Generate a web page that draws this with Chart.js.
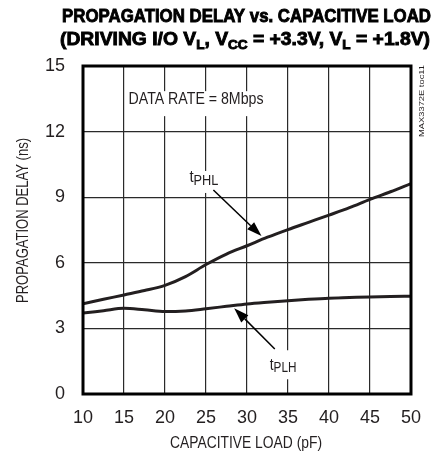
<!DOCTYPE html>
<html><head><meta charset="utf-8">
<script src="https://cdn.jsdelivr.net/npm/chart.js@4/dist/chart.umd.min.js"></script>
<style>html,body{margin:0;padding:0;background:#fff;}#wrap{width:434px;height:457px;}</style>
</head><body><div id="wrap"><canvas id="c" width="434" height="457"></canvas></div>
<script>
// ---- data ----
const capLoad = [10, 12.5, 15, 17.5, 20, 22.5, 25, 27.5, 30, 32.5, 35, 37.5, 40, 42.5, 45, 47.5, 50];
const tPHL = [4.13, 4.33, 4.53, 4.73, 4.97, 5.37, 5.92, 6.40, 6.78, 7.17, 7.52, 7.85, 8.18, 8.52, 8.90, 9.25, 9.62];
const tPLH = [3.70, 3.81, 3.92, 3.85, 3.77, 3.80, 3.90, 4.01, 4.12, 4.20, 4.27, 4.33, 4.38, 4.41, 4.44, 4.46, 4.47];
const xTicks = [10, 15, 20, 25, 30, 35, 40, 45, 50];
const yTicks = [0, 3, 6, 9, 12, 15];

const FONT = '"Liberation Sans Narrow", "Liberation Sans", Arial, sans-serif';
const INK = '#231f20';

function fitText(ctx, text, x, y, width, align, stroke) {
  const w = ctx.measureText(text).width;
  const s = width / w;
  ctx.save();
  ctx.translate(x, y);
  ctx.scale(s, 1);
  ctx.textAlign = align || 'left';
  ctx.fillText(text, 0, 0);
  if (stroke) { ctx.lineWidth = stroke; ctx.strokeStyle = ctx.fillStyle; ctx.strokeText(text, 0, 0); }
  ctx.restore();
}
// pieces: [text, size, dy]
function drawPieces(ctx, pieces, left, baseline, width, bold, stroke) {
  let total = 0;
  pieces.forEach(p => { ctx.font = (bold ? 'bold ' : '') + p[1] + 'px ' + FONT; p.w = ctx.measureText(p[0]).width; total += p.w; });
  const s = width ? width / total : 1;
  ctx.save();
  ctx.translate(left, baseline);
  ctx.scale(s, 1);
  ctx.textAlign = 'left';
  ctx.textBaseline = 'alphabetic';
  let x = 0;
  pieces.forEach(p => {
    ctx.font = (bold ? 'bold ' : '') + p[1] + 'px ' + FONT;
    ctx.fillText(p[0], x, p[2]);
    if (stroke) { ctx.lineWidth = stroke; ctx.strokeStyle = ctx.fillStyle; ctx.strokeText(p[0], x, p[2]); }
    x += p.w;
  });
  ctx.restore();
}
function arrow(ctx, x1, y1, x2, y2) {
  const ang = Math.atan2(y2 - y1, x2 - x1);
  const L = 15, W = 5;
  const bx = x2 - L * Math.cos(ang), by = y2 - L * Math.sin(ang);
  ctx.save();
  ctx.strokeStyle = '#000'; ctx.fillStyle = '#000'; ctx.lineWidth = 1.5;
  ctx.beginPath(); ctx.moveTo(x1, y1); ctx.lineTo(bx, by); ctx.stroke();
  ctx.beginPath();
  ctx.moveTo(x2, y2);
  ctx.lineTo(bx + W * Math.sin(ang), by - W * Math.cos(ang));
  ctx.lineTo(bx - W * Math.sin(ang), by + W * Math.cos(ang));
  ctx.closePath(); ctx.fill();
  ctx.restore();
}

const annot = {
  id: 'annot',
  beforeDatasetsDraw(chart) {
    const ctx = chart.ctx, xs = chart.scales.x, ys = chart.scales.y;
    const X = v => xs.getPixelForValue(v), Y = v => ys.getPixelForValue(v);
    ctx.save();
    ctx.fillStyle = '#fff';
    ctx.fillRect(X(15.3), Y(13.85), X(32.5) - X(15.3), 25);
    ctx.fillRect(X(22.7), Y(10.2), X(26.7) - X(22.7), 22);
    ctx.fillRect(X(32.5), Y(2.0), X(36.4) - X(32.5), 29);
    ctx.fillStyle = INK;
    ctx.textBaseline = 'alphabetic';
    ctx.font = '16px ' + FONT;
    fitText(ctx, 'DATA RATE = 8Mbps', X(15.55), Y(13.28), 135, 'left');
    drawPieces(ctx, [['t', 17, 0], ['PHL', 14.5, 3.3]], X(22.98), Y(9.71), 29);
    drawPieces(ctx, [['t', 17, 0], ['PLH', 14.5, 2.3]], X(32.78), Y(1.10), 26.7);
    ctx.restore();
  },
  afterDatasetsDraw(chart) {
    const ctx = chart.ctx, xs = chart.scales.x, ys = chart.scales.y, a = chart.chartArea;
    const X = v => xs.getPixelForValue(v), Y = v => ys.getPixelForValue(v);
    arrow(ctx, X(25.9), Y(9.33), X(31.77), Y(7.22));
    arrow(ctx, X(33.39), Y(2.06), X(28.44), Y(3.92));
    ctx.save();
    ctx.strokeStyle = '#000'; ctx.lineWidth = 3;
    ctx.strokeRect(a.left, a.top, a.right - a.left, a.bottom - a.top);
    ctx.restore();
    ctx.save();
    ctx.fillStyle = '#000';
    ctx.textBaseline = 'alphabetic';
    ctx.font = 'bold 18.5px ' + FONT;
    fitText(ctx, 'PROPAGATION DELAY vs. CAPACITIVE LOAD', 62, 21.7, 369, 'left', 0.9);
    drawPieces(ctx, [
      ['(DRIVING I/O V', 18.5, 0], ['L', 13, 3.5], [', V', 18.5, 0], ['CC', 13, 3.5],
      [' = +3.3V, V', 18.5, 0], ['L', 13, 3.5], [' = +1.8V)', 18.5, 0]
    ], 60, 45, 370, true, 0.9);
    ctx.fillStyle = INK;
    ctx.font = '16px ' + FONT;
    fitText(ctx, 'CAPACITIVE LOAD (pF)', 170, 448.3, 152, 'left');
    ctx.save();
    ctx.translate(27.5, 303);
    ctx.rotate(-Math.PI / 2);
    ctx.font = '17px ' + FONT;
    fitText(ctx, 'PROPAGATION DELAY (ns)', 0, 0, 165, 'left');
    ctx.restore();
    ctx.save();
    ctx.translate(424, 137);
    ctx.rotate(-Math.PI / 2);
    ctx.font = '8px ' + FONT;
    fitText(ctx, 'MAX3372E toc11', 0, 0, 72, 'left');
    ctx.restore();
    ctx.restore();
  }
};

new Chart(document.getElementById('c'), {
  type: 'line',
  data: {
    datasets: [
      { label: 'tPHL', data: capLoad.map((x, i) => ({ x, y: tPHL[i] })), borderColor: INK, borderWidth: 3, pointRadius: 0, cubicInterpolationMode: 'monotone', fill: false },
      { label: 'tPLH', data: capLoad.map((x, i) => ({ x, y: tPLH[i] })), borderColor: INK, borderWidth: 3, pointRadius: 0, cubicInterpolationMode: 'monotone', fill: false }
    ]
  },
  options: {
    responsive: false,
    animation: false,
    events: [],
    layout: { padding: { top: 66, right: 23, bottom: 0, left: 0 } },
    plugins: { legend: { display: false }, title: { display: false }, tooltip: { enabled: false } },
    scales: {
      x: {
        type: 'linear', min: 10, max: 50,
        afterFit(s) { s.height = 63; },
        afterBuildTicks(s) { s.ticks = xTicks.map(v => ({ value: v })); },
        grid: { color: '#2a2a2a', lineWidth: 1.2, drawTicks: false },
        border: { display: false },
        ticks: { padding: 13, color: INK, font: { family: FONT, size: 18 }, maxRotation: 0 }
      },
      y: {
        type: 'linear', min: 0, max: 15,
        afterFit(s) { s.width = 83; },
        afterBuildTicks(s) { s.ticks = yTicks.map(v => ({ value: v })); },
        grid: { color: '#2a2a2a', lineWidth: 1.2, drawTicks: false },
        border: { display: false },
        ticks: { padding: 18, color: INK, font: { family: FONT, size: 18 } }
      }
    }
  },
  plugins: [annot]
});
</script>
</body></html>
